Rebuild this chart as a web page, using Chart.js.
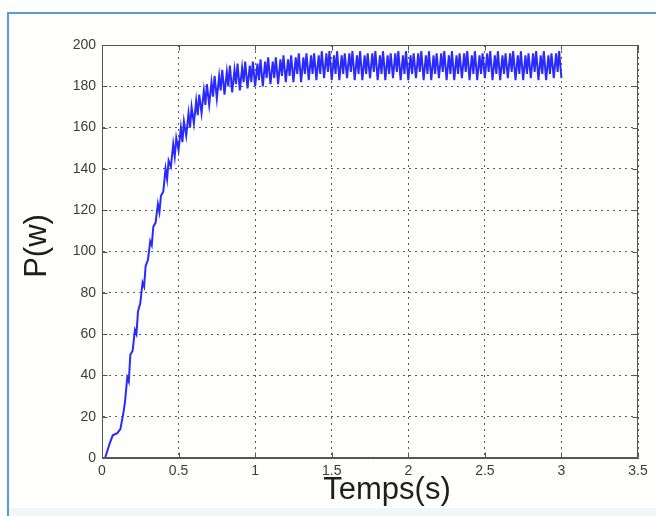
<!DOCTYPE html>
<html>
<head>
<meta charset="utf-8">
<script src="https://cdn.jsdelivr.net/npm/chart.js@4.4.1/dist/chart.umd.min.js"></script>
<style>
  html, body { margin: 0; padding: 0; background: #fefefc; }
  #wrap { position: relative; width: 656px; height: 516px; overflow: hidden; }
  #edge { position: absolute; left: 7px; top: 12px; right: -10px; bottom: -10px;
          border-left: 2px solid #5b9bd5; border-top: 2px solid #5b9bd5; }
  #foot { position: absolute; left: 9px; right: 0; top: 508px; bottom: 0; background: #f1f6f9; }
  #myChart { position: absolute; left: 0; top: 0; }
</style>
</head>
<body>
<div id="wrap">
  <div id="edge"></div>
  <div id="foot"></div>
  <canvas id="myChart" width="656" height="516"></canvas>
</div>
<script>
// axes
const xTicks = [0, 0.5, 1, 1.5, 2, 2.5, 3, 3.5];
const yTicks = [0, 20, 40, 60, 80, 100, 120, 140, 160, 180, 200];
const xTitle = 'Temps(s)';
const yTitle = 'P(w)';

// start-up, before the ripple sets in
const leadT = [0, 0.02, 0.05, 0.07, 0.10, 0.12, 0.14];
const leadP = [0, 0, 7, 11, 12, 14, 22];

// ripple: each cycle starts at cycleT and has four samples
// (trough, crest, dip, second crest) at rippleOffset into the cycle
const rippleOffset = [0, 0.015, 0.025, 0.035];
const cycleT = [
  0.15, 0.20, 0.25, 0.30, 0.35, 0.40, 0.45, 0.50, 0.55, 0.60,
  0.65, 0.70, 0.75, 0.80, 0.85, 0.90, 0.95, 1.00, 1.05, 1.10,
  1.15, 1.20, 1.25, 1.30, 1.35, 1.40, 1.45, 1.50, 1.55, 1.60,
  1.65, 1.70, 1.75, 1.80, 1.85, 1.90, 1.95, 2.00, 2.05, 2.10,
  2.15, 2.20, 2.25, 2.30, 2.35, 2.40, 2.45, 2.50, 2.55, 2.60,
  2.65, 2.70, 2.75, 2.80, 2.85, 2.90, 2.95
];
const troughP = [
  27, 52, 75, 96, 114, 129, 141, 149, 156, 162,
  167, 171, 174, 176, 177, 178, 179, 180, 180, 181,
  181, 182, 182, 182, 183, 183, 184, 183, 183, 184,
  183, 183, 184, 183, 183, 184, 183, 183, 184, 183,
  183, 184, 183, 183, 184, 183, 183, 184, 183, 183,
  184, 183, 183, 184, 183, 183, 184
];
const crestP = [
  39, 62, 85, 105, 123, 140, 152, 160, 167, 173,
  178, 182, 185, 187, 188, 189, 190, 191, 192, 192,
  193, 193, 194, 194, 195, 195, 196, 195, 195, 196,
  195, 195, 196, 195, 195, 196, 195, 195, 196, 195,
  195, 196, 195, 195, 196, 195, 195, 196, 195, 195,
  196, 195, 195, 196, 195, 195, 196
];
const dipP = [
  37, 60, 83, 103, 119, 135, 146, 153, 160, 166,
  171, 175, 178, 180, 181, 182, 182, 183, 184, 184,
  185, 185, 186, 186, 186, 186, 187, 186, 186, 187,
  186, 186, 187, 186, 186, 187, 186, 186, 187, 186,
  186, 187, 186, 186, 187, 186, 186, 187, 186, 186,
  187, 186, 186, 187, 186, 186, 187
];
const crest2P = [
  50, 71, 93, 112, 127, 144, 155, 163, 170, 176,
  181, 185, 188, 190, 191, 192, 192, 193, 194, 194,
  195, 195, 196, 196, 196, 197, 197, 197, 196, 197,
  197, 196, 197, 197, 196, 197, 197, 196, 197, 197,
  196, 197, 197, 196, 197, 197, 196, 197, 197, 196,
  197, 197, 196, 197, 197, 196, 197
];
const endT = 3.0;
const endP = 184;

const points = leadT.map((t, i) => ({ x: t, y: leadP[i] }));
cycleT.forEach((t, i) => {
  const vals = [troughP[i], crestP[i], dipP[i], crest2P[i]];
  rippleOffset.forEach((dt, k) => points.push({ x: t + dt, y: vals[k] }));
});
points.push({ x: endT, y: endP });

const tickFont = { family: '"Liberation Sans", Arial, sans-serif', size: 14 };
const titleFont = '31px "Liberation Sans", Arial, sans-serif';

// box round the plot, inward tick marks and the two axis titles
const boxPlugin = {
  id: 'box',
  afterDraw(chart) {
    const { ctx, chartArea: a, scales: { x, y } } = chart;
    const L = Math.round(a.left) + 0.5, R = Math.round(a.right) - 0.5;
    const T = Math.round(a.top) + 0.5, B = Math.round(a.bottom) - 0.5;
    ctx.save();
    ctx.strokeStyle = '#555';
    ctx.lineWidth = 1;
    ctx.strokeRect(L, T, R - L, B - T);
    ctx.beginPath();
    xTicks.forEach(v => {
      const p = Math.round(x.getPixelForValue(v)) + 0.5;
      ctx.moveTo(p, B); ctx.lineTo(p, B - 5);
      ctx.moveTo(p, T); ctx.lineTo(p, T + 5);
    });
    yTicks.forEach(v => {
      const p = Math.round(y.getPixelForValue(v)) + 0.5;
      ctx.moveTo(L, p); ctx.lineTo(L + 5, p);
      ctx.moveTo(R, p); ctx.lineTo(R - 5, p);
    });
    ctx.stroke();

    ctx.fillStyle = '#1e1e1e';
    ctx.font = titleFont;
    ctx.textAlign = 'center';
    ctx.textBaseline = 'alphabetic';
    ctx.fillText(xTitle, (a.left + a.right) / 2 + 17, 499);
    ctx.translate(37, 246);
    ctx.rotate(-Math.PI / 2);
    ctx.textBaseline = 'middle';
    ctx.fillText(yTitle, 0, 0);
    ctx.restore();
  }
};

const myChart = new Chart(document.getElementById('myChart').getContext('2d'), {
  type: 'line',
  data: {
    datasets: [{
      data: points,
      borderColor: '#2a2aff',
      borderWidth: 2,
      pointRadius: 0,
      tension: 0,
      fill: false
    }]
  },
  options: {
    responsive: false,
    animation: false,
    layout: { padding: { left: 0, top: 45, right: 18, bottom: 0 } },
    plugins: { legend: { display: false }, tooltip: { enabled: false } },
    scales: {
      x: {
        type: 'linear',
        min: 0, max: 3.5,
        afterBuildTicks: s => { s.ticks = xTicks.map(v => ({ value: v })); },
        afterFit: s => { s.height = 58; },
        ticks: { font: tickFont, color: '#3c3c3c', padding: 5, maxRotation: 0, autoSkip: false,
                 callback: v => String(v) },
        grid: { color: '#5a5a5a', lineWidth: 1, drawTicks: false },
        border: { display: true, color: '#555', dash: [2, 4] }
      },
      y: {
        min: 0, max: 200,
        afterBuildTicks: s => { s.ticks = yTicks.map(v => ({ value: v })); },
        afterFit: s => { s.width = 102; },
        ticks: { font: tickFont, color: '#3c3c3c', padding: 6, autoSkip: false,
                 callback: v => String(v) },
        grid: { color: '#5a5a5a', lineWidth: 1, drawTicks: false },
        border: { display: true, color: '#555', dash: [2, 4] }
      }
    }
  },
  plugins: [boxPlugin]
});
</script>
</body>
</html>
